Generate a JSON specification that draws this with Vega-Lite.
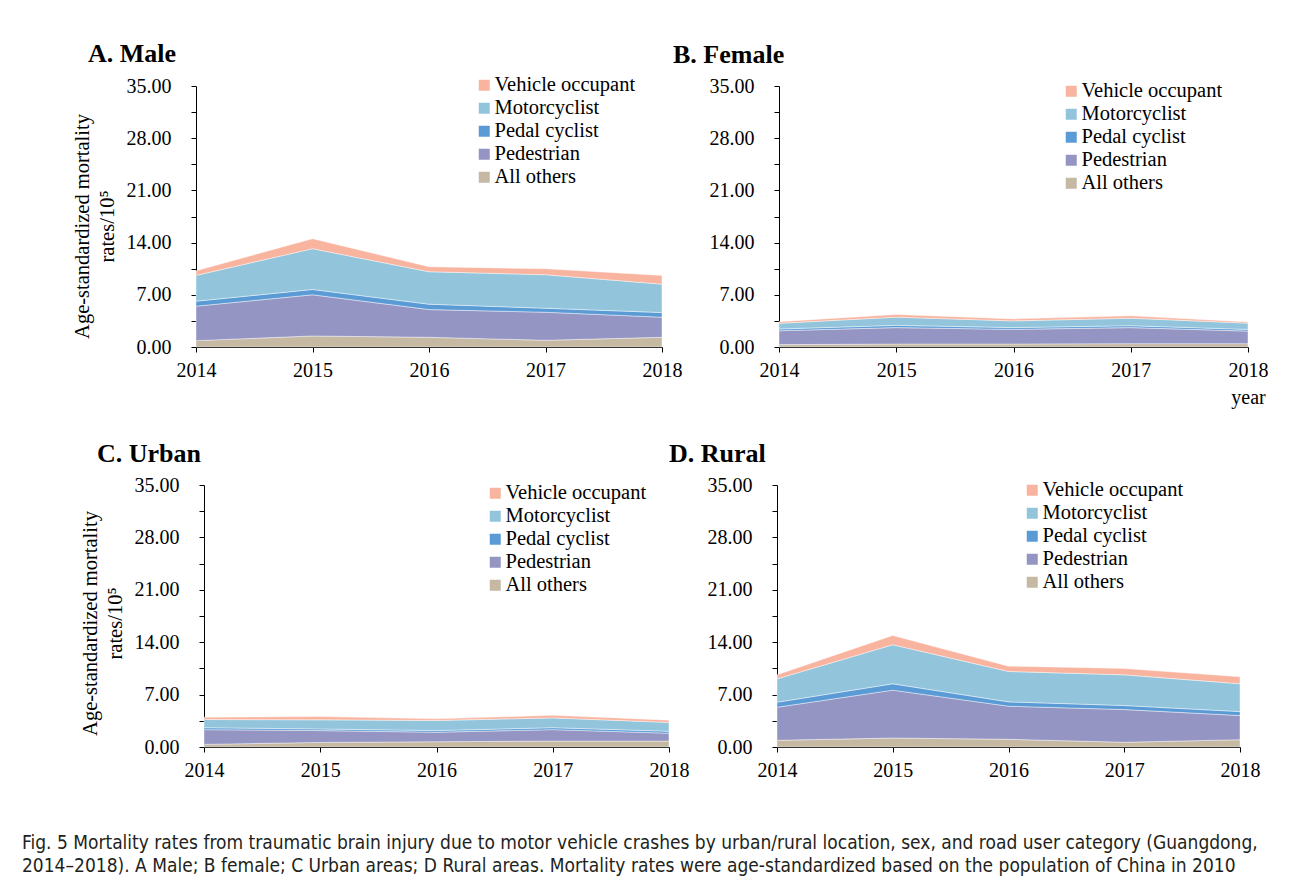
{
  "$schema": "https://vega.github.io/schema/vega-lite/v6.json",
  "padding": {"left": 22, "top": 41, "right": 0, "bottom": 0},
  "background": "white",
  "datasets": {
    "layers": [
      {"category": "All others", "rank": 1},
      {"category": "Pedestrian", "rank": 2},
      {"category": "Pedal cyclist", "rank": 3},
      {"category": "Motorcyclist", "rank": 4},
      {"category": "Vehicle occupant", "rank": 5}
    ],
    "rates": [
      {"panel": "A", "year": 2014, "category": "All others", "rate": 0.85},
      {"panel": "A", "year": 2014, "category": "Pedestrian", "rate": 4.62},
      {"panel": "A", "year": 2014, "category": "Pedal cyclist", "rate": 0.67},
      {"panel": "A", "year": 2014, "category": "Motorcyclist", "rate": 3.46},
      {"panel": "A", "year": 2014, "category": "Vehicle occupant", "rate": 0.62},
      {"panel": "A", "year": 2015, "category": "All others", "rate": 1.48},
      {"panel": "A", "year": 2015, "category": "Pedestrian", "rate": 5.52},
      {"panel": "A", "year": 2015, "category": "Pedal cyclist", "rate": 0.71},
      {"panel": "A", "year": 2015, "category": "Motorcyclist", "rate": 5.47},
      {"panel": "A", "year": 2015, "category": "Vehicle occupant", "rate": 1.35},
      {"panel": "A", "year": 2016, "category": "All others", "rate": 1.30},
      {"panel": "A", "year": 2016, "category": "Pedestrian", "rate": 3.72},
      {"panel": "A", "year": 2016, "category": "Pedal cyclist", "rate": 0.72},
      {"panel": "A", "year": 2016, "category": "Motorcyclist", "rate": 4.35},
      {"panel": "A", "year": 2016, "category": "Vehicle occupant", "rate": 0.67},
      {"panel": "A", "year": 2017, "category": "All others", "rate": 0.90},
      {"panel": "A", "year": 2017, "category": "Pedestrian", "rate": 3.76},
      {"panel": "A", "year": 2017, "category": "Pedal cyclist", "rate": 0.54},
      {"panel": "A", "year": 2017, "category": "Motorcyclist", "rate": 4.49},
      {"panel": "A", "year": 2017, "category": "Vehicle occupant", "rate": 0.80},
      {"panel": "A", "year": 2018, "category": "All others", "rate": 1.30},
      {"panel": "A", "year": 2018, "category": "Pedestrian", "rate": 2.69},
      {"panel": "A", "year": 2018, "category": "Pedal cyclist", "rate": 0.63},
      {"panel": "A", "year": 2018, "category": "Motorcyclist", "rate": 3.81},
      {"panel": "A", "year": 2018, "category": "Vehicle occupant", "rate": 1.17},
      {"panel": "B", "year": 2014, "category": "All others", "rate": 0.32},
      {"panel": "B", "year": 2014, "category": "Pedestrian", "rate": 1.86},
      {"panel": "B", "year": 2014, "category": "Pedal cyclist", "rate": 0.23},
      {"panel": "B", "year": 2014, "category": "Motorcyclist", "rate": 0.77},
      {"panel": "B", "year": 2014, "category": "Vehicle occupant", "rate": 0.22},
      {"panel": "B", "year": 2015, "category": "All others", "rate": 0.40},
      {"panel": "B", "year": 2015, "category": "Pedestrian", "rate": 2.20},
      {"panel": "B", "year": 2015, "category": "Pedal cyclist", "rate": 0.30},
      {"panel": "B", "year": 2015, "category": "Motorcyclist", "rate": 1.10},
      {"panel": "B", "year": 2015, "category": "Vehicle occupant", "rate": 0.36},
      {"panel": "B", "year": 2016, "category": "All others", "rate": 0.40},
      {"panel": "B", "year": 2016, "category": "Pedestrian", "rate": 1.96},
      {"panel": "B", "year": 2016, "category": "Pedal cyclist", "rate": 0.24},
      {"panel": "B", "year": 2016, "category": "Motorcyclist", "rate": 0.90},
      {"panel": "B", "year": 2016, "category": "Vehicle occupant", "rate": 0.27},
      {"panel": "B", "year": 2017, "category": "All others", "rate": 0.45},
      {"panel": "B", "year": 2017, "category": "Pedestrian", "rate": 2.15},
      {"panel": "B", "year": 2017, "category": "Pedal cyclist", "rate": 0.26},
      {"panel": "B", "year": 2017, "category": "Motorcyclist", "rate": 1.00},
      {"panel": "B", "year": 2017, "category": "Vehicle occupant", "rate": 0.32},
      {"panel": "B", "year": 2018, "category": "All others", "rate": 0.45},
      {"panel": "B", "year": 2018, "category": "Pedestrian", "rate": 1.68},
      {"panel": "B", "year": 2018, "category": "Pedal cyclist", "rate": 0.23},
      {"panel": "B", "year": 2018, "category": "Motorcyclist", "rate": 0.84},
      {"panel": "B", "year": 2018, "category": "Vehicle occupant", "rate": 0.16},
      {"panel": "C", "year": 2014, "category": "All others", "rate": 0.35},
      {"panel": "C", "year": 2014, "category": "Pedestrian", "rate": 1.97},
      {"panel": "C", "year": 2014, "category": "Pedal cyclist", "rate": 0.26},
      {"panel": "C", "year": 2014, "category": "Motorcyclist", "rate": 1.09},
      {"panel": "C", "year": 2014, "category": "Vehicle occupant", "rate": 0.31},
      {"panel": "C", "year": 2015, "category": "All others", "rate": 0.61},
      {"panel": "C", "year": 2015, "category": "Pedestrian", "rate": 1.58},
      {"panel": "C", "year": 2015, "category": "Pedal cyclist", "rate": 0.22},
      {"panel": "C", "year": 2015, "category": "Motorcyclist", "rate": 1.22},
      {"panel": "C", "year": 2015, "category": "Vehicle occupant", "rate": 0.44},
      {"panel": "C", "year": 2016, "category": "All others", "rate": 0.70},
      {"panel": "C", "year": 2016, "category": "Pedestrian", "rate": 1.27},
      {"panel": "C", "year": 2016, "category": "Pedal cyclist", "rate": 0.22},
      {"panel": "C", "year": 2016, "category": "Motorcyclist", "rate": 1.35},
      {"panel": "C", "year": 2016, "category": "Vehicle occupant", "rate": 0.22},
      {"panel": "C", "year": 2017, "category": "All others", "rate": 0.79},
      {"panel": "C", "year": 2017, "category": "Pedestrian", "rate": 1.53},
      {"panel": "C", "year": 2017, "category": "Pedal cyclist", "rate": 0.26},
      {"panel": "C", "year": 2017, "category": "Motorcyclist", "rate": 1.31},
      {"panel": "C", "year": 2017, "category": "Vehicle occupant", "rate": 0.35},
      {"panel": "C", "year": 2018, "category": "All others", "rate": 0.79},
      {"panel": "C", "year": 2018, "category": "Pedestrian", "rate": 1.05},
      {"panel": "C", "year": 2018, "category": "Pedal cyclist", "rate": 0.26},
      {"panel": "C", "year": 2018, "category": "Motorcyclist", "rate": 1.18},
      {"panel": "C", "year": 2018, "category": "Vehicle occupant", "rate": 0.31},
      {"panel": "D", "year": 2014, "category": "All others", "rate": 0.89},
      {"panel": "D", "year": 2014, "category": "Pedestrian", "rate": 4.42},
      {"panel": "D", "year": 2014, "category": "Pedal cyclist", "rate": 0.67},
      {"panel": "D", "year": 2014, "category": "Motorcyclist", "rate": 3.12},
      {"panel": "D", "year": 2014, "category": "Vehicle occupant", "rate": 0.54},
      {"panel": "D", "year": 2015, "category": "All others", "rate": 1.20},
      {"panel": "D", "year": 2015, "category": "Pedestrian", "rate": 6.39},
      {"panel": "D", "year": 2015, "category": "Pedal cyclist", "rate": 0.85},
      {"panel": "D", "year": 2015, "category": "Motorcyclist", "rate": 5.22},
      {"panel": "D", "year": 2015, "category": "Vehicle occupant", "rate": 1.24},
      {"panel": "D", "year": 2016, "category": "All others", "rate": 1.03},
      {"panel": "D", "year": 2016, "category": "Pedestrian", "rate": 4.42},
      {"panel": "D", "year": 2016, "category": "Pedal cyclist", "rate": 0.58},
      {"panel": "D", "year": 2016, "category": "Motorcyclist", "rate": 4.06},
      {"panel": "D", "year": 2016, "category": "Vehicle occupant", "rate": 0.71},
      {"panel": "D", "year": 2017, "category": "All others", "rate": 0.63},
      {"panel": "D", "year": 2017, "category": "Pedestrian", "rate": 4.37},
      {"panel": "D", "year": 2017, "category": "Pedal cyclist", "rate": 0.54},
      {"panel": "D", "year": 2017, "category": "Motorcyclist", "rate": 4.10},
      {"panel": "D", "year": 2017, "category": "Vehicle occupant", "rate": 0.85},
      {"panel": "D", "year": 2018, "category": "All others", "rate": 0.98},
      {"panel": "D", "year": 2018, "category": "Pedestrian", "rate": 3.22},
      {"panel": "D", "year": 2018, "category": "Pedal cyclist", "rate": 0.53},
      {"panel": "D", "year": 2018, "category": "Motorcyclist", "rate": 3.71},
      {"panel": "D", "year": 2018, "category": "Vehicle occupant", "rate": 0.94}
    ]
  },
  "title": {
    "text": [
      "Fig. 5  Mortality rates from traumatic brain injury due to motor vehicle crashes by urban/rural location, sex, and road user category (Guangdong,",
      "2014–2018). A Male; B female; C Urban areas; D Rural areas. Mortality rates were age-standardized based on the population of China in 2010"
    ],
    "orient": "bottom",
    "anchor": "start",
    "frame": "bounds",
    "font": "Liberation Sans Narrow, DejaVu Sans Condensed, sans-serif",
    "fontSize": 19,
    "fontWeight": "normal",
    "color": "#231f20",
    "lineHeight": 23,
    "offset": 54,
    "dx": -50
  },
  "center": true,
  "spacing": 34,
  "resolve": {"legend": {"color": "independent"}, "scale": {"color": "independent"}},
  "vconcat": [
    {
      "spacing": 117,
      "bounds": "flush",
      "resolve": {"legend": {"color": "independent"}, "scale": {"color": "independent"}},
      "hconcat": [
        {
          "width": 466, "height": 261,
          "title": {"text": "A. Male", "dx": -108, "offset": 8},
          "data": {"name": "rates"},
          "transform": [
            {"filter": "datum.panel == 'A'"},
            {"lookup": "category", "from": {"data": {"name": "layers"}, "key": "category", "fields": ["rank"]}}
          ],
          "mark": {"type": "area", "stroke": "white", "strokeWidth": 0.6, "strokeOpacity": 0.7},
          "encoding": {
            "x": {"field": "year", "type": "quantitative", "scale": {"domain": [2014, 2018], "nice": false}, "axis": {"values": [2014, 2015, 2016, 2017, 2018], "format": "d", "title": null}},
            "y": {"field": "rate", "type": "quantitative", "stack": "zero", "scale": {"domain": [0, 35], "nice": false}, "axis": {"values": [0, 3.5, 7, 10.5, 14, 17.5, 21, 24.5, 28, 31.5, 35], "labelExpr": "datum.value % 7 == 0 ? format(datum.value, '.2f') : ''", "title": ["Age-standardized mortality", "rates/10⁵"], "titleY": 140}},
            "color": {"field": "category", "type": "nominal", "scale": {"domain": ["Vehicle occupant", "Motorcyclist", "Pedal cyclist", "Pedestrian", "All others"], "range": ["#f9b4a0", "#92c5dc", "#5b9bd5", "#9595c3", "#c5b9a4"]}, "legend": {"legendX": 278, "legendY": -11}},
            "order": {"field": "rank", "type": "quantitative", "sort": "ascending"}
          }
        },
        {
          "width": 469, "height": 261,
          "title": {"text": "B. Female", "dx": -106, "offset": 8},
          "data": {"name": "rates"},
          "transform": [
            {"filter": "datum.panel == 'B'"},
            {"lookup": "category", "from": {"data": {"name": "layers"}, "key": "category", "fields": ["rank"]}}
          ],
          "mark": {"type": "area", "stroke": "white", "strokeWidth": 0.6, "strokeOpacity": 0.7},
          "encoding": {
            "x": {"field": "year", "type": "quantitative", "scale": {"domain": [2014, 2018], "nice": false}, "axis": {"values": [2014, 2015, 2016, 2017, 2018], "format": "d", "title": "year", "titleX": 469, "titleY": 50, "titleAlign": "center", "titleBaseline": "middle", "titleFont": "Liberation Serif", "titleFontSize": 20, "titleFontWeight": "normal", "titleColor": "black"}},
            "y": {"field": "rate", "type": "quantitative", "stack": "zero", "scale": {"domain": [0, 35], "nice": false}, "axis": {"values": [0, 3.5, 7, 10.5, 14, 17.5, 21, 24.5, 28, 31.5, 35], "labelExpr": "datum.value % 7 == 0 ? format(datum.value, '.2f') : ''", "title": null}},
            "color": {"field": "category", "type": "nominal", "scale": {"domain": ["Vehicle occupant", "Motorcyclist", "Pedal cyclist", "Pedestrian", "All others"], "range": ["#f9b4a0", "#92c5dc", "#5b9bd5", "#9595c3", "#c5b9a4"]}, "legend": {"legendX": 282, "legendY": -5}},
            "order": {"field": "rank", "type": "quantitative", "sort": "ascending"}
          }
        }
      ]
    },
    {
      "spacing": 108,
      "bounds": "flush",
      "resolve": {"legend": {"color": "independent"}, "scale": {"color": "independent"}},
      "hconcat": [
        {
          "width": 465, "height": 262,
          "title": {"text": "C. Urban", "dx": -107, "offset": 8},
          "data": {"name": "rates"},
          "transform": [
            {"filter": "datum.panel == 'C'"},
            {"lookup": "category", "from": {"data": {"name": "layers"}, "key": "category", "fields": ["rank"]}}
          ],
          "mark": {"type": "area", "stroke": "white", "strokeWidth": 0.6, "strokeOpacity": 0.7},
          "encoding": {
            "x": {"field": "year", "type": "quantitative", "scale": {"domain": [2014, 2018], "nice": false}, "axis": {"values": [2014, 2015, 2016, 2017, 2018], "format": "d", "title": null}},
            "y": {"field": "rate", "type": "quantitative", "stack": "zero", "scale": {"domain": [0, 35], "nice": false}, "axis": {"values": [0, 3.5, 7, 10.5, 14, 17.5, 21, 24.5, 28, 31.5, 35], "labelExpr": "datum.value % 7 == 0 ? format(datum.value, '.2f') : ''", "title": ["Age-standardized mortality", "rates/10⁵"], "titleY": 138}},
            "color": {"field": "category", "type": "nominal", "scale": {"domain": ["Vehicle occupant", "Motorcyclist", "Pedal cyclist", "Pedestrian", "All others"], "range": ["#f9b4a0", "#92c5dc", "#5b9bd5", "#9595c3", "#c5b9a4"]}, "legend": {"legendX": 281, "legendY": -2}},
            "order": {"field": "rank", "type": "quantitative", "sort": "ascending"}
          }
        },
        {
          "width": 463, "height": 262,
          "title": {"text": "D. Rural", "dx": -108, "offset": 8},
          "data": {"name": "rates"},
          "transform": [
            {"filter": "datum.panel == 'D'"},
            {"lookup": "category", "from": {"data": {"name": "layers"}, "key": "category", "fields": ["rank"]}}
          ],
          "mark": {"type": "area", "stroke": "white", "strokeWidth": 0.6, "strokeOpacity": 0.7},
          "encoding": {
            "x": {"field": "year", "type": "quantitative", "scale": {"domain": [2014, 2018], "nice": false}, "axis": {"values": [2014, 2015, 2016, 2017, 2018], "format": "d", "title": null}},
            "y": {"field": "rate", "type": "quantitative", "stack": "zero", "scale": {"domain": [0, 35], "nice": false}, "axis": {"values": [0, 3.5, 7, 10.5, 14, 17.5, 21, 24.5, 28, 31.5, 35], "labelExpr": "datum.value % 7 == 0 ? format(datum.value, '.2f') : ''", "title": null}},
            "color": {"field": "category", "type": "nominal", "scale": {"domain": ["Vehicle occupant", "Motorcyclist", "Pedal cyclist", "Pedestrian", "All others"], "range": ["#f9b4a0", "#92c5dc", "#5b9bd5", "#9595c3", "#c5b9a4"]}, "legend": {"legendX": 245, "legendY": -5}},
            "order": {"field": "rank", "type": "quantitative", "sort": "ascending"}
          }
        }
      ]
    }
  ],
  "config": {
    "view": {"stroke": null},
    "font": "Liberation Serif",
    "title": {"font": "Liberation Serif", "fontSize": 26, "fontWeight": "bold", "color": "black", "anchor": "start", "frame": "group"},
    "axis": {
      "grid": false,
      "domainColor": "black",
      "domainWidth": 1,
      "tickColor": "black",
      "tickSize": 5,
      "tickWidth": 1,
      "labelFont": "Liberation Serif",
      "labelFontSize": 20,
      "labelColor": "black",
      "titleFont": "Liberation Serif",
      "titleFontSize": 20.5,
      "titleFontWeight": "normal",
      "titleColor": "black",
      "titleLineHeight": 25
    },
    "axisX": {"labelPadding": 8, "labelFlush": false, "labelOverlap": false},
    "axisY": {
      "labelOverlap": false,
      "labelPadding": 20,
      "titlePadding": 9
    },
    "legend": {
      "orient": "none",
      "title": null,
      "symbolType": "square",
      "symbolSize": 121,
      "symbolStrokeWidth": 0,
      "symbolOpacity": 1,
      "labelFont": "Liberation Serif",
      "labelFontSize": 20.5,
      "labelColor": "black",
      "labelOffset": 0,
      "labelLimit": 300,
      "rowPadding": 2,
      "padding": 0
    }
  }
}
